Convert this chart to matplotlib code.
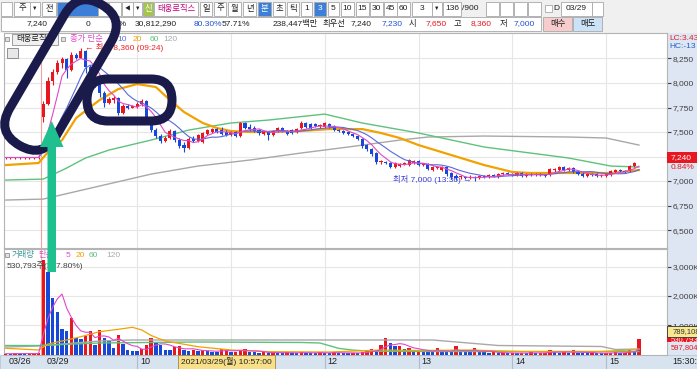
import matplotlib
matplotlib.use("Agg")
import matplotlib.pyplot as plt
import matplotlib.patches as mpatches
import matplotlib.transforms as mtransforms
import numpy as np
import pandas as pd

plt.rcParams["font.family"] = ["Liberation Sans", "Noto Sans CJK KR"]

# ── data: 3-minute candles, last 8 bars of 03/26 then 03/29 09:00 -> 15:30 ──
prev_open  = [7230, 7230, 7230, 7230, 7230, 7230, 7230, 7230]
prev_high  = [7250, 7250, 7250, 7250, 7250, 7250, 7250, 7250]
prev_low   = [7220, 7220, 7220, 7220, 7220, 7220, 7220, 7220]
prev_close = [7240, 7240, 7240, 7240, 7240, 7240, 7240, 7240]
prev_vol   = [30, 20, 40, 30, 20, 30, 40, 60]          # thousand shares

day_open = [7650, 7790, 8020, 8110, 8200, 8240, 8130, 8290, 8260, 8330,
            8160, 8080, 7990, 7900, 7800, 7830, 7850, 7690, 7770, 7750,
            7760, 7790, 7820, 7640, 7520, 7460, 7410, 7440, 7510, 7420,
            7370, 7340, 7430, 7410, 7400, 7480, 7500, 7530, 7520, 7500,
            7470, 7500, 7460, 7590, 7550, 7540, 7520, 7480, 7500, 7470,
            7510, 7540, 7510, 7520, 7500, 7540, 7590, 7580, 7580, 7560,
            7550, 7580, 7560, 7520, 7510, 7500, 7480, 7460, 7430, 7370,
            7330, 7290, 7190, 7190, 7180, 7140, 7150, 7170, 7160, 7180,
            7200, 7160, 7170, 7110, 7130, 7110, 7140, 7080, 7050, 7040,
            7040, 7030, 7040, 7030, 7050, 7040, 7060, 7040, 7070, 7080,
            7070, 7060, 7080, 7050, 7070, 7060, 7070, 7060, 7060, 7110,
            7110, 7140, 7110, 7130, 7090, 7070, 7050, 7070, 7070, 7050,
            7050, 7060, 7090, 7110, 7100, 7100, 7150, 7230]
day_high = [7820, 8060, 8140, 8230, 8270, 8260, 8320, 8310, 8360, 8340,
            8180, 8090, 8000, 7920, 7860, 7870, 7860, 7790, 7790, 7780,
            7810, 7840, 7830, 7650, 7540, 7480, 7460, 7530, 7520, 7440,
            7400, 7450, 7460, 7480, 7500, 7530, 7540, 7540, 7550, 7520,
            7510, 7510, 7600, 7600, 7580, 7560, 7530, 7510, 7510, 7520,
            7550, 7550, 7520, 7530, 7540, 7610, 7600, 7590, 7590, 7580,
            7600, 7590, 7570, 7530, 7520, 7510, 7490, 7470, 7440, 7380,
            7340, 7300, 7210, 7200, 7190, 7190, 7180, 7190, 7220, 7210,
            7210, 7180, 7180, 7150, 7150, 7150, 7150, 7090, 7070, 7060,
            7050, 7060, 7050, 7060, 7060, 7070, 7070, 7080, 7090, 7090,
            7080, 7090, 7090, 7080, 7080, 7080, 7080, 7070, 7130, 7130,
            7150, 7150, 7140, 7140, 7100, 7090, 7080, 7080, 7080, 7070,
            7080, 7110, 7120, 7120, 7110, 7160, 7190, 7240]
day_low = [7600, 7780, 7980, 8090, 8150, 8050, 8120, 8240, 8250, 8100,
           8060, 7960, 7860, 7760, 7790, 7800, 7670, 7680, 7730, 7740,
           7740, 7770, 7640, 7500, 7440, 7390, 7400, 7430, 7400, 7340,
           7300, 7330, 7400, 7400, 7390, 7470, 7490, 7490, 7470, 7460,
           7460, 7450, 7450, 7530, 7510, 7500, 7470, 7470, 7420, 7460,
           7500, 7500, 7470, 7480, 7490, 7530, 7540, 7530, 7550, 7540,
           7540, 7540, 7510, 7500, 7480, 7470, 7450, 7420, 7340, 7310,
           7260, 7170, 7170, 7170, 7130, 7130, 7140, 7160, 7150, 7170,
           7150, 7150, 7110, 7100, 7120, 7100, 7050, 7020, 7010, 7020,
           7020, 7020, 7000, 7020, 7030, 7030, 7040, 7030, 7060, 7060,
           7050, 7050, 7040, 7040, 7050, 7050, 7050, 7040, 7050, 7090,
           7100, 7100, 7100, 7080, 7060, 7040, 7040, 7050, 7040, 7040,
           7040, 7050, 7080, 7090, 7080, 7090, 7140, 7230]
day_close = [7790, 8020, 8110, 8200, 8240, 8130, 8290, 8260, 8330, 8160,
             8080, 7990, 7900, 7800, 7840, 7850, 7690, 7770, 7750, 7770,
             7790, 7820, 7650, 7520, 7460, 7410, 7440, 7510, 7420, 7360,
             7340, 7430, 7410, 7470, 7490, 7520, 7530, 7500, 7480, 7470,
             7500, 7460, 7590, 7540, 7530, 7510, 7490, 7500, 7470, 7510,
             7540, 7510, 7480, 7490, 7530, 7590, 7550, 7540, 7560, 7560,
             7590, 7550, 7520, 7510, 7490, 7480, 7460, 7430, 7360, 7330,
             7280, 7190, 7190, 7180, 7140, 7180, 7170, 7170, 7210, 7200,
             7160, 7170, 7120, 7140, 7140, 7140, 7070, 7040, 7030, 7040,
             7030, 7040, 7030, 7050, 7040, 7060, 7050, 7070, 7080, 7070,
             7060, 7080, 7050, 7070, 7060, 7070, 7060, 7050, 7120, 7120,
             7140, 7110, 7130, 7090, 7070, 7050, 7070, 7060, 7050, 7060,
             7070, 7100, 7110, 7100, 7090, 7150, 7180, 7240]
day_vol = [3224, 2820, 1938, 1466, 869, 786, 1248, 579, 545, 638,
           786, 328, 834, 579, 466, 214, 665, 350, 150, 120,
           110, 180, 325, 553, 437, 325, 150, 140, 266, 275,
           150, 130, 150, 120, 140, 110, 100, 90, 180, 190,
           80, 95, 170, 190, 90, 70, 60, 80, 50, 70,
           60, 50, 70, 60, 40, 80, 60, 50, 40, 70,
           60, 50, 70, 60, 50, 40, 60, 50, 80, 110,
           190, 150, 320, 553, 403, 280, 300, 200, 220, 130,
           140, 120, 100, 90, 210, 110, 90, 80, 300, 100,
           90, 70, 220, 100, 80, 60, 70, 50, 60, 40,
           50, 40, 60, 50, 70, 40, 50, 60, 150, 80,
           60, 70, 50, 150, 60, 50, 40, 60, 50, 40,
           50, 60, 70, 50, 60, 160, 90, 531]

# moving averages (bar index, value)
ma20_at  = [-8, -1, 1, 4, 7, 12, 16, 20, 24, 27, 30, 34, 37, 40, 44, 48, 55, 61, 68,
            72, 76, 80, 87, 94, 100, 104, 112, 121, 127]
ma20_val = [7163, 7184, 7296, 7418, 7643, 7826, 7938, 7989, 7959, 7826, 7704, 7592,
            7541, 7510, 7500, 7500, 7510, 7530, 7530, 7490, 7439, 7367, 7265, 7163,
            7092, 7082, 7082, 7082, 7112]
ma60_at  = [-8, 0, 5, 9, 14, 23, 31, 40, 48, 60, 68, 80, 94, 112, 121, 127]
ma60_val = [7010, 7020, 7133, 7235, 7316, 7418, 7520, 7592, 7622, 7683, 7592, 7490,
            7347, 7235, 7153, 7143]
ma120_at  = [-8, 0, 12, 23, 33, 44, 55, 65, 76, 82, 94, 112, 120, 127]
ma120_val = [6806, 6816, 6949, 7071, 7153, 7214, 7286, 7347, 7418, 7449, 7459, 7449,
             7439, 7367]
vma20_at  = [-8, -1, 1, 5, 8, 12, 16, 19, 21, 23, 26, 33, 40, 48, 61, 72, 80, 91,
             102, 119, 127]
vma20_val = [212, 154, 358, 495, 607, 778, 860, 928, 836, 648, 461, 266, 154, 96, 85,
             154, 137, 154, 102, 102, 171]
vma60_at  = [-8, -1, 12, 33, 55, 59, 61, 63, 66, 70, 87, 127]
vma60_val = [307, 307, 393, 427, 410, 393, 300, 210, 150, 110, 102, 100]
vma120_at  = [-8, -1, 12, 19, 83, 97, 119, 122, 127]
vma120_val = [256, 290, 461, 495, 495, 307, 273, 171, 188]

hour_idx = [20, 40, 60, 80, 100, 120]
hour_lbl = ["10", "", "12", "13", "14", "15"]     # 11 sits under the crosshair label
price_ticks = list(range(6500, 8251, 250))

RED, BLUE = "#e8161e", "#1848d8"
PINK, MA10C, ORANGE, GREEN, GREY = "#e048c8", "#5a68d8", "#f2a200", "#5ec27c", "#a8a8a8"
NAVY, ARROW = "#1b1b4b", "#1fc08f"

W, H = 697, 369
fig = plt.figure(figsize=(W / 100, H / 100), dpi=100)
fig.patch.set_facecolor("white")


def fig_rect(x0, y0, x1, y1):
    return [x0 / W, 1 - y1 / H, (x1 - x0) / W, (y1 - y0) / H]


def px_axes(z):
    a = fig.add_axes([0, 0, 1, 1], zorder=z)
    a.set_xlim(0, W)
    a.set_ylim(H, 0)
    a.axis("off")
    a.patch.set_alpha(0)
    return a


def box(a, x0, y0, x1, y1, fc="white", ec="#a8a8a8", lw=0.6, z=1):
    a.add_patch(mpatches.Rectangle((x0, y0), x1 - x0, y1 - y0, fc=fc, ec=ec, lw=lw, zorder=z))


def txt(a, x, y, s, color="#202020", size=6, ha="center", z=3, **kw):
    a.text(x, y, s, color=color, fontsize=size, ha=ha, va="center", zorder=z, **kw)


# ── background: toolbar, axis strips, date bar ─────────────────────────────
bg = px_axes(0)
box(bg, 0, 0, W, 33, fc="#f0f0f0", ec="none")
box(bg, 667, 33, W, 355, fc="#dde6f2", ec="none")
box(bg, 0, 355, W, H, fc="#d8e3f0", ec="#b8c4d4")

row1 = [(1, 12, "", "w"), (14, 30, "주", "w"), (30, 40, "▼", "w"), (42, 56, "전", "w"),
        (57, 98, "", "b"), (98, 108, "▼", "w"), (109, 121, "", "w"), (122, 133, "◀", "w"),
        (133, 142, "▼", "w"), (143, 153, "신", "g"), (154, 198, "태웅로직스", "n"),
        (200, 212, "일", "w"), (214, 226, "주", "w"), (228, 241, "월", "w"), (243, 256, "년", "w"),
        (258, 271, "분", "b"), (273, 285, "초", "w"), (287, 299, "틱", "w"), (301, 312, "1", "w"),
        (314, 326, "3", "b"), (328, 339, "5", "w"), (341, 354, "10", "w"), (356, 369, "15", "w"),
        (370, 383, "30", "w"), (384, 397, "45", "w"), (397, 410, "60", "w"), (412, 432, "3", "w"),
        (432, 442, "▼", "w"), (443, 461, "136", "w"), (486, 499, "", "w"), (500, 513, "", "w"),
        (514, 527, "", "w"), (528, 541, "", "w"), (561, 592, "03/29", "w"), (592, 603, "", "w")]
styles = {"w": ("white", "#202020"), "b": ("#3b7fd9", "white"),
          "g": ("#a4c44c", "white"), "n": ("white", "#c0007a")}
for x0, x1, s, st in row1:
    fc, tc = styles[st]
    box(bg, x0, 1.5, x1, 15.5, fc=fc)
    if s:
        txt(bg, (x0 + x1) / 2, 8.5, s, color=tc, size=4 if s in "▼◀" else 6)
txt(bg, 470, 8.5, "/900")
box(bg, 545, 5, 552, 12)
txt(bg, 556, 8.5, "D")

box(bg, 1, 17, 541, 31)
row2 = [("7,240", 48, "#202020"), ("0", 90, "#202020"), ("0%", 127, "#202020"),
        ("30,812,290", 177, "#202020"), ("80.30%", 222, "#2050d0"), ("57.71%", 250, "#202020"),
        ("238,447백만", 318, "#202020"), ("최우선", 345, "#202020"), ("7,240", 372, "#202020"),
        ("7,230", 403, "#2050d0"), ("시", 416, "#202020"), ("7,650", 447, RED),
        ("고", 461, "#202020"), ("8,360", 492, RED), ("저", 507, "#202020"), ("7,000", 535, "#2050d0")]
for s, xr, c in row2:
    txt(bg, xr, 24, s, color=c, ha="right")
box(bg, 543, 17, 572, 31, fc="#f6cccc")
txt(bg, 557.5, 24, "매수")
box(bg, 573, 17, 602, 31, fc="#cce2f6")
txt(bg, 587.5, 24, "매도")

# ── price panel ────────────────────────────────────────────────────────────
n_prev = len(prev_close)
opens = np.array(prev_open + day_open, float)
highs = np.array(prev_high + day_high, float)
lows = np.array(prev_low + day_low, float)
closes = np.array(prev_close + day_close, float)
vols = np.array(prev_vol + day_vol, float)
idx = np.arange(len(closes)) - n_prev
xlim = ((4 - 43.3) / 4.69, (667 - 43.3) / 4.69)

ax = fig.add_axes(fig_rect(4, 33, 667, 248), zorder=2)
ax.set_xlim(*xlim)
ax.set_ylim(6317, 8510)
for v in price_ticks:
    ax.axhline(v, color="#e6e6e6", lw=0.8, zorder=0)
for h in hour_idx:
    ax.axvline(h, color="#e6e6e6", lw=0.8, zorder=0)
ax.axvline(-0.4, color="#f2a0a0", lw=0.8, zorder=0)

cols = np.where(closes >= opens, RED, BLUE)
ax.vlines(idx, lows, highs, colors=cols, lw=0.8, zorder=3)
ax.bar(idx, np.maximum(np.abs(closes - opens), 10), bottom=np.minimum(opens, closes),
       width=0.66, color=cols, lw=0, zorder=3)

close_s = pd.Series(closes)
ax.plot(ma120_at, ma120_val, color=GREY, lw=1.0, zorder=2)
ax.plot(ma60_at, ma60_val, color=GREEN, lw=1.0, zorder=2)
ax.plot(ma20_at, ma20_val, color=ORANGE, lw=1.6, zorder=2)
ax.plot(idx, close_s.rolling(10, min_periods=1).mean(), color=MA10C, lw=0.8, zorder=4)
ax.plot(idx, close_s.rolling(5, min_periods=1).mean(), color=PINK, lw=0.8, zorder=4)

last_close = day_close[-1]
ax.set_xticks([])
ax.yaxis.tick_right()
ax.set_yticks(price_ticks)
# the tick next to the current price is covered by the price box
ax.set_yticklabels(["" if abs(v - last_close) < 60 else f"{v:,}" for v in price_ticks])
ax.tick_params(axis="y", length=3, pad=1, labelsize=6, colors="#404040")
for sp in ax.spines.values():
    sp.set_color("#b4b4b4")
    sp.set_linewidth(0.8)

ax.text(8.9, 8357, "← 최고 8,360 (09:24)", color="#ee2222", fontsize=6, va="center", zorder=6)
ax.text(91.4, 7015, "최저 7,000 (13:36) →", color="#3c3cdc", fontsize=6, ha="right",
        va="center", zorder=6)

right = mtransforms.blended_transform_factory(ax.transAxes, ax.transData)
ax.add_patch(mpatches.Rectangle((1.0, last_close - 60), 0.046, 120, transform=right, fc=RED,
                                ec="none", clip_on=False, zorder=8))
ax.text(1.005, last_close, f"{last_close:,}", transform=right, color="white", fontsize=6,
        va="center", clip_on=False, zorder=9)
ax.text(1.005, last_close - 105, "0.84%", transform=right, color=RED, fontsize=6,
        va="center", clip_on=False, zorder=9)

# ── volume panel ───────────────────────────────────────────────────────────
axv = fig.add_axes(fig_rect(4, 249, 667, 354.5), zorder=2)
axv.set_xlim(*xlim)
axv.set_ylim(0, 3600)
for v in (1000, 2000, 3000):
    axv.axhline(v, color="#e6e6e6", lw=0.8, zorder=0)
for h in hour_idx:
    axv.axvline(h, color="#e6e6e6", lw=0.8, zorder=0)
axv.axvline(-0.4, color="#f2a0a0", lw=0.8, zorder=0)

prev_v = np.concatenate([[0], vols[:-1]])
vcols = np.where(vols >= prev_v, RED, BLUE)
axv.bar(idx, vols, width=0.72, color=vcols, lw=0, zorder=3)
axv.plot(vma120_at, vma120_val, color=GREY, lw=1.0, zorder=4)
axv.plot(vma60_at, vma60_val, color=GREEN, lw=1.0, zorder=4)
axv.plot(vma20_at, vma20_val, color=ORANGE, lw=0.9, zorder=4)
axv.plot(idx, pd.Series(vols).rolling(5, min_periods=1).mean(), color=PINK, lw=0.8, zorder=4)

axv.set_xticks([])
axv.yaxis.tick_right()
axv.set_yticks([1000, 2000, 3000])
axv.set_yticklabels(["1,000K", "2,000K", "3,000K"])
axv.tick_params(axis="y", length=3, pad=1, labelsize=6, colors="#404040")
for sp in axv.spines.values():
    sp.set_color("#b4b4b4")
    sp.set_linewidth(0.8)

vright = mtransforms.blended_transform_factory(axv.transAxes, axv.transData)
axv.add_patch(mpatches.Rectangle((1.0, 531 - 110), 0.046, 220, transform=vright, fc=RED,
                                 ec="none", clip_on=False, zorder=8))
axv.text(1.005, 500, "530,793", transform=vright, color="white", fontsize=5.5,
         va="center", clip_on=False, zorder=8)
axv.add_patch(mpatches.Rectangle((1.0, 789 - 185), 0.046, 370, transform=vright,
                                 fc="#f8e890", ec="#303030", lw=0.6, clip_on=False, zorder=9))
axv.text(1.008, 789, "789,108", transform=vright, color="#303030", fontsize=5.5,
         va="center", clip_on=False, zorder=10)
axv.text(1.005, 250, "597,804", transform=vright, color=RED, fontsize=5.5, va="center",
         clip_on=False, zorder=10)

# date bar labels under the volume panel
dt = mtransforms.blended_transform_factory(axv.transData, axv.transAxes)
dt_off = mtransforms.offset_copy(dt, fig=fig, x=3, y=0, units="dots")
for i, s in zip([-8, 0] + hour_idx, ["03/26", "03/29"] + hour_lbl):
    if s:
        axv.text(i, -0.071, s, transform=dt_off, fontsize=6.5, color="#202020", va="center",
                 clip_on=False, zorder=5)
    if i in hour_idx:
        axv.plot([i, i], [-0.14, 0], transform=dt, color="#b0bccc", lw=0.8, clip_on=False)
axv.add_patch(mpatches.Rectangle((39 - 10.35, -0.135), 20.7, 0.13, transform=dt, fc="#f8e08a",
                                 ec="#a08840", lw=0.6, clip_on=False, zorder=9))
axv.text(39, -0.071, "2021/03/29(월) 10:57:00", transform=dt, fontsize=6, ha="center",
         va="center", color="#202020", clip_on=False, zorder=10)
fig.text(672 / W, 1 - 362 / H, "15:30:", fontsize=6.5, va="center", color="#202020")

# ── legends and overlays ───────────────────────────────────────────────────
top = px_axes(10)
box(top, 4.5, 37, 8.5, 41, fc="#e0e0e0", ec="#808080", lw=0.5)
box(top, 12, 33.5, 58, 45, fc="#f0f0f0", ec="#909090", lw=0.6)
txt(top, 35, 39.5, "태웅로직스")
box(top, 61, 37, 65, 41, fc="#e0e0e0", ec="#808080", lw=0.5)
txt(top, 70, 39.5, "종가 단순", color=PINK, ha="left")
for x, s, c in [(109, "5", PINK), (117, "10", MA10C), (133, "20", ORANGE),
                (150, "60", GREEN), (163, "120", GREY)]:
    txt(top, x, 39.5, s, color=c, ha="left")
box(top, 7, 48, 18, 58, fc="#e8e8e8", ec="#808080", lw=0.6)

box(top, 4.5, 253, 8.5, 257, fc="#e0e0e0", ec="#808080", lw=0.5)
txt(top, 12, 255.5, "거래량", color="#3a9a9a", ha="left")
txt(top, 38, 255.5, "단순", color=PINK, ha="left")
for x, s, c in [(66, "5", PINK), (76, "20", ORANGE), (89, "60", GREEN), (106, "120", GREY)]:
    txt(top, x, 255.5, s, color=c, ha="left")
txt(top, 7, 265.5, "530,793주(397.80%)", color="#404040", ha="left")
txt(top, 669, 38, "LC:3.43", color="#e02020", ha="left")
txt(top, 669, 47, "HC:-13", color="#2060d0", ha="left")

# hand-drawn annotations
c1, c2, r = np.array([88.0, 28.0]), np.array([33.0, 122.0]), 27.0
d = c1 - c2
length = np.hypot(*d) + 2 * r
cx, cy = (c1 + c2) / 2
loop = mpatches.FancyBboxPatch((cx - length / 2, cy - r), length, 2 * r,
                               boxstyle=f"round,pad=0,rounding_size={r}",
                               fc="none", ec=NAVY, lw=6.5, zorder=20)
loop.set_transform(mtransforms.Affine2D().rotate_deg_around(
    cx, cy, np.degrees(np.arctan2(d[1], d[0]))) + top.transData)
top.add_patch(loop)
top.add_patch(mpatches.FancyBboxPatch((87, 79), 85, 42, boxstyle="round,pad=0,rounding_size=21",
                                      fc="none", ec=NAVY, lw=6.5, zorder=20))
top.add_patch(mpatches.Polygon([(47.5, 272), (56, 272), (56, 147), (63.5, 147), (51.75, 121),
                                (40, 147), (47.5, 147)], closed=True, fc=ARROW, ec="none",
                               zorder=21))

fig.savefig("out.png", dpi=100)
